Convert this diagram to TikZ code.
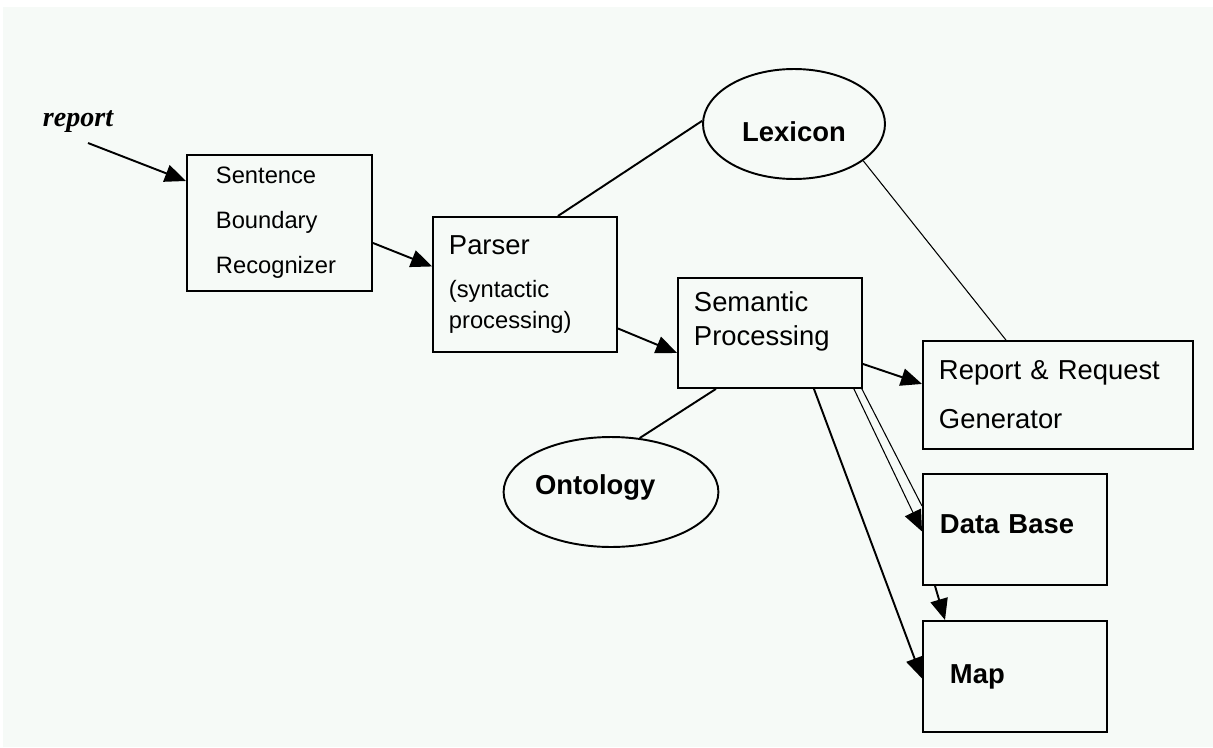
\documentclass[tikz,border=0pt]{standalone}
\usepackage{fontspec}
\setmainfont{Liberation Sans}
\newfontfamily\repfont{Liberation Serif}
\usepackage{xcolor}
\usetikzlibrary{calc}
\usetikzlibrary{positioning}
\usetikzlibrary{shapes.geometric}
\usetikzlibrary{arrows.meta}

\definecolor{paper}{HTML}{F6FAF7}

\tikzset{
  box/.style={draw, line width=1.1pt, rectangle, anchor=north west, align=left, inner ysep=0pt},
  ell/.style={draw, line width=1.1pt, ellipse, inner sep=0pt, minimum height=2.2cm,
    font=\bfseries\fontsize{15.6}{18}\selectfont},
  link/.style={line width=1.1pt},
  arr/.style={line width=1.1pt, -{Triangle[length=12pt,width=10pt]}},
}

\begin{document}
\begin{tikzpicture}[x=0.02cm,y=-0.02cm]
\useasboundingbox (0,0) rectangle (1213,747);
\fill[paper] (3,7) rectangle (1213,747);

% input
\node[font=\repfont\bfseries\itshape\fontsize{16}{18}\selectfont] (rep) at (78,122) {report};
\coordinate (in) at (88,143);

% boxes
\node[box, text width=2.54cm, inner xsep=0.58cm, minimum height=2.72cm,
  font=\fontsize{13.5}{25.5}\selectfont] (sbr) at (186,154) {Sentence\\Boundary\\Recognizer};
\node[box, text width=3.04cm, inner xsep=0.32cm, minimum height=2.7cm,
  font=\fontsize{13.5}{17.6}\selectfont] (parser) at (432,216)
  {{\fontsize{15.6}{17.6}\selectfont Parser}\\[6.8pt](syntactic\\processing)};
\node[box, text width=3.04cm, inner xsep=0.32cm, minimum height=2.2cm, text depth=36pt,
  font=\fontsize{15.6}{19.3}\selectfont] (sem) at (677,277) {Semantic\\Processing};
\node[box, text width=4.76cm, inner xsep=0.32cm, minimum height=2.16cm,
  font=\fontsize{15.6}{27.8}\selectfont] (rrg) at (922,340) {Report \& Request\\Generator};
\node[box, text width=3.0cm, inner xsep=0.34cm, minimum height=2.22cm, text depth=6.2pt,
  font=\bfseries\fontsize{15.6}{18}\selectfont] (db) at (922,473) {Data Base};
\node[box, text width=2.6cm, inner xsep=0.54cm, minimum height=2.22cm,
  font=\bfseries\fontsize{15.6}{18}\selectfont] (map) at (922,620) {Map};

% knowledge sources
\node[ell, minimum width=3.64cm, text height=20pt] (lex) at (794,124) {Lexicon};
\node[ell, minimum width=4.16cm, text depth=8.9pt] (ont) at (611,492) {Ontology\hspace*{18pt}};

% flow
\draw[arr] (in) -- ($(sbr.north west)+(0,27)$);
\draw[arr] ($(sbr.east)+(0,20)$) -- ($(parser.west)+(0,-18)$);
\draw[arr] ($(parser.east)+(0,44)$) -- ($(sem.west)+(0,20)$);
\draw[arr] ($(sem.east)+(0,31)$) -- ($(rrg.west)+(0,-11)$);
\draw[arr, line width=0.6pt] ($(sem.south east)+(-9,0)$) -- ($(db.west)+(0,2)$);
\draw[line width=0.6pt] ($(sem.south east)+(-1,0)$) -- ($(db.north west)+(0,33)$);
\draw[arr] ($(sem.south)+(44,0)$) -- ($(map.west)+(0,2)$);
\draw[arr] ($(db.south west)+(13,0)$) -- ($(map.north west)+(23,0)$);

% links to knowledge
\draw[link] ($(parser.north)+(33,0)$) -- (lex.178);
\draw[line width=0.6pt] (lex.332) -- ($(rrg.north)+(-52,0)$);
\draw[link] (ont.62) -- ($(sem.south)+(-54,0)$);

\end{tikzpicture}
\end{document}
